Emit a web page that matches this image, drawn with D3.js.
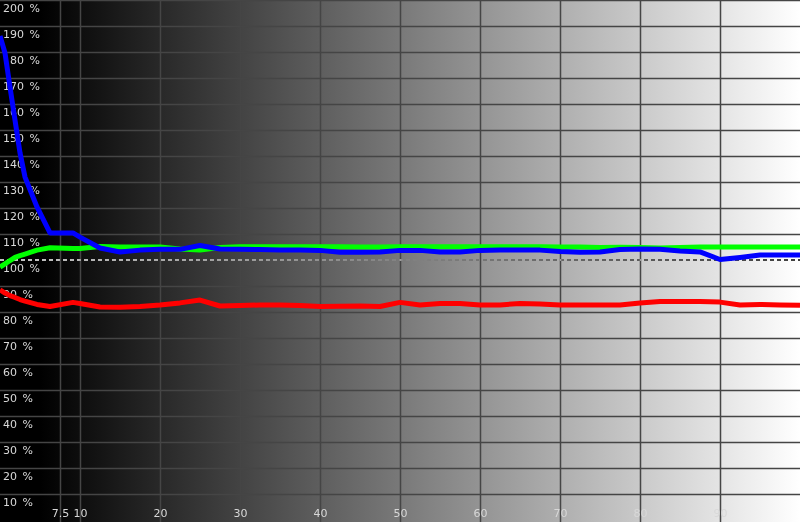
<!DOCTYPE html>
<html>
<head>
<meta charset="utf-8">
<script src="https://cdn.jsdelivr.net/npm/d3@7"></script>
<style>
  body { margin: 0; background: #000; }
  svg { display: block; }
  .lbl text { font-family: "DejaVu Sans", sans-serif; font-size: 11px; fill: #d8d8d8; }
</style>
</head>
<body>
<svg></svg>
<script>
// stimulus levels (%) at which the three channels were measured
const levels = [0, 0.625, 1.25, 1.875, 2.5, 3.125, 4.625, 6.25, 9.125, 10,
  12.5, 15, 17.5, 20, 22.5, 25, 27.5, 30, 32.5, 35, 37.5, 40, 42.5, 45, 47.5,
  50, 52.5, 55, 57.5, 60, 62.5, 65, 67.5, 70, 72.5, 75, 77.5, 80, 82.5, 85,
  87.5, 90, 92.5, 95, 97.5, 100];

const redVals = [88.5, 87.3, 86.3, 85.6, 84.8, 84.2, 82.9, 82.1, 83.7, 83.3,
  81.9, 81.8, 82.1, 82.7, 83.5, 84.6, 82.3, 82.5, 82.7, 82.7, 82.5, 82.1, 82.2, 82.3, 82.1,
  83.7, 82.7, 83.3, 83.3, 82.7, 82.7, 83.3, 83.1, 82.7, 82.7, 82.7, 82.7, 83.5, 84.0, 84.0,
  84.0, 83.8, 82.7, 82.9, 82.7, 82.6];

const greenVals = [97.3, 98.5, 99.8, 101.0, 101.7, 102.3, 103.8, 104.7, 104.4, 104.4,
  105.2, 105.0, 105.0, 105.0, 104.2, 103.8, 104.8, 105.1, 105.1, 105.1, 105.1, 105.1, 105.1, 105.0, 105.0,
  105.1, 105.1, 105.1, 105.1, 105.1, 105.1, 105.1, 105.1, 105.0, 105.0, 104.8, 104.9, 104.8, 104.6, 104.8,
  105.0, 105.0, 105.0, 105.0, 105.0, 105.0];

const blueVals = [186.2, 179.6, 166.5, 153.8, 141.2, 131.9, 120.4, 110.4, 110.4, 108.8,
  104.6, 103.1, 103.8, 104.1, 104.1, 105.6, 104.2, 104.1, 104.0, 103.8, 103.8, 103.7, 103.0, 103.0, 103.1,
  103.7, 103.7, 103.1, 103.1, 103.7, 103.8, 103.8, 103.8, 103.3, 103.0, 103.1, 104.0, 104.2, 104.1, 103.5,
  103.1, 100.2, 101.0, 101.9, 101.9, 101.9];

const xTicks = [7.5, 10, 20, 30, 40, 50, 60, 70, 80, 90];
const yTicks = [10, 20, 30, 40, 50, 60, 70, 80, 90, 100, 110, 120, 130, 140, 150, 160, 170, 180, 190, 200];
const reference = 100;

const width = 800, height = 522;

const svg = d3.select('svg')
    .attr('width', width)
    .attr('height', height);

const x = d3.scaleLinear().domain([0, 100]).range([0, width]);
const y = d3.scaleLinear().domain([0, 200]).range([520, 0]);

// grey ramp background, black on the left to white on the right
const grad = svg.append('defs').append('linearGradient')
    .attr('id', 'ramp')
    .attr('gradientUnits', 'userSpaceOnUse')
    .attr('x1', 40).attr('x2', width).attr('y1', 0).attr('y2', 0);
grad.append('stop').attr('offset', 0).attr('stop-color', '#000');
grad.append('stop').attr('offset', 1).attr('stop-color', '#fff');

const plot = svg.append('g').style('isolation', 'isolate');

plot.append('rect')
    .attr('width', width)
    .attr('height', height)
    .attr('fill', 'url(#ramp)');

// grid
plot.append('g')
    .attr('class', 'grid x')
    .call(d3.axisTop(x).tickValues(xTicks).tickSize(-height).tickFormat(''))
    .call(g => g.select('.domain').remove());

plot.append('g')
    .attr('class', 'grid y')
    .call(d3.axisLeft(y).tickValues(yTicks.filter(d => d !== reference)).tickSize(-width).tickFormat(''))
    .call(g => g.select('.domain').remove());

plot.selectAll('.grid line')
    .attr('stroke', '#454545')
    .attr('stroke-width', 1.5);

// labels
plot.append('g')
    .attr('class', 'lbl')
    .call(d3.axisRight(y).tickValues(yTicks).tickSize(0).tickPadding(3).tickFormat(d => d + '\u2002%'))
    .call(g => g.select('.domain').remove())
    .call(g => g.selectAll('text').attr('dy', 0).attr('y', 11.5).attr('fill', null));

plot.append('g')
    .attr('class', 'lbl')
    .attr('transform', 'translate(0,' + height + ')')
    .call(d3.axisTop(x).tickValues(xTicks).tickSize(0).tickPadding(0).tickFormat(d => d))
    .call(g => g.select('.domain').remove())
    .call(g => g.selectAll('text').attr('dy', 0).attr('y', -5).attr('fill', null));

// 100 % reference
plot.append('line')
    .attr('x1', x(0)).attr('x2', x(100))
    .attr('y1', y(reference)).attr('y2', y(reference))
    .attr('stroke', '#fff')
    .attr('stroke-width', 1.5)
    .attr('stroke-dasharray', '4,3')
    .style('mix-blend-mode', 'difference');

// channel curves
const line = d3.line()
    .x((d, i) => x(levels[i]))
    .y(d => y(d));

const series = [
  {name: 'green', values: greenVals, color: '#00ff00'},
  {name: 'red', values: redVals, color: '#ff0000'},
  {name: 'blue', values: blueVals, color: '#0000ff'}
];

plot.selectAll('.curve')
    .data(series)
    .enter().append('path')
    .attr('class', d => 'curve ' + d.name)
    .attr('d', d => line(d.values))
    .attr('fill', 'none')
    .attr('stroke', d => d.color)
    .attr('stroke-width', 5)
    .attr('stroke-linejoin', 'round');
</script>
</body>
</html>
